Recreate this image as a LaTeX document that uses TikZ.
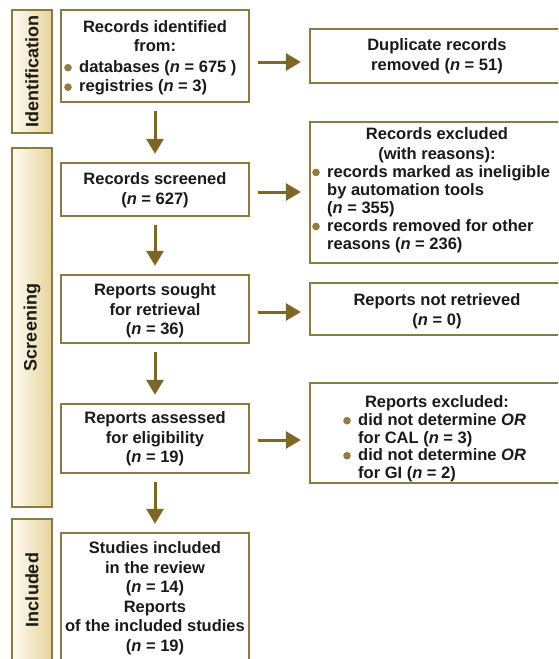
\documentclass[tikz,border=0pt]{standalone}
\usepackage{fontspec}
\setmainfont{Liberation Sans}
\usetikzlibrary{arrows.meta}
\definecolor{bordc}{HTML}{8C7A44}
\definecolor{arrc}{HTML}{7D6726}
\definecolor{bulc}{HTML}{8F7B45}
\definecolor{sideL}{HTML}{FFFDF3}
\definecolor{sideR}{HTML}{E6D39A}
\definecolor{textc}{HTML}{1A1A1A}
\newcommand{\bul}{\makebox[15pt][l]{\tikz[baseline=-4.8pt]\fill[bulc] (0,0) circle (3.8pt);}}
\newcommand{\ind}{\hspace*{15pt}}
\newcommand{\nn}{\textit{n}}
\begin{document}
\begin{tikzpicture}[x=1pt, y=-1pt,
  box/.style={draw=bordc, line width=2.4pt, fill=white, rectangle, inner sep=0pt},
  side/.style={draw=bordc, line width=2.2pt, left color=sideL, right color=sideR, rectangle, inner sep=0pt},
  txt/.style={inner sep=0pt, align=center, text=textc, font=\fontsize{16.5}{19.5}\selectfont\bfseries},
  lst/.style={inner sep=0pt, align=left, text=textc, font=\fontsize{16.5}{18}\selectfont\bfseries},
  stxt/.style={inner sep=0pt, rotate=90, text=textc, font=\fontsize{18}{20}\selectfont\bfseries},
  arr/.style={draw=arrc, line width=3pt, -{Triangle[length=15pt,width=17pt]}, shorten <=8pt, shorten >=8pt}]
\useasboundingbox (0,0) rectangle (558,659);
\fill[white] (0,0) rectangle (558,659);
\clip (0,0) rectangle (558,659);

% side bars
\node[side, minimum width=40pt, minimum height=123pt] (s1) at (32,71.5) {};
\node[side, minimum width=40pt, minimum height=359pt] (s2) at (32,327.5) {};
\node[side, minimum width=40pt, minimum height=146pt] (s3) at (32,592) {};
\node[stxt] (s1t) at (s1.center) {Identification};
\node[stxt] (s2t) at (s2.center) {Screening};
\node[stxt] (s3t) at (32,590) {Included};

% left column boxes
\node[box, minimum width=188pt, minimum height=92pt] (b1) at (155,56) {};
\node[box, minimum width=188pt, minimum height=53pt] (b2) at (155,189.5) {};
\node[box, minimum width=188pt, minimum height=68pt] (b3) at (155,309) {};
\node[box, minimum width=188pt, minimum height=69pt] (b4) at (155,438.5) {};
\node[box, minimum width=188pt, minimum height=134pt] (b5) at (155,600) {};

% right column boxes
\node[box, minimum width=256pt, minimum height=54pt] (r1) at (438,56) {};
\node[box, minimum width=256pt, minimum height=141pt] (r2) at (438,192.5) {};
\node[box, minimum width=256pt, minimum height=52pt] (r3) at (438,309) {};
\node[box, minimum width=256pt, minimum height=100pt] (r4) at (438,433) {};

% texts
\node[txt] (b1h) at (155,36) {Records identified\\from:};
\node[lst, anchor=west, font=\fontsize{16.5}{19.5}\selectfont\bfseries] (b1l) at (64,78) {\bul databases (\nn{} = 675 )\\\bul registries (\nn{} = 3)};
\node[txt] (b2t) at (155,190) {Records screened\\(\nn{} = 627)};
\node[txt] (b3t) at (155,311) {Reports sought\\for retrieval\\(\nn{} = 36)};
\node[txt] (b4t) at (155,439) {Reports assessed\\for eligibility\\(\nn{} = 19)};
\node[txt] (b5t) at (155,598) {Studies included\\in the review\\(\nn{} = 14)\\Reports\\of the included studies\\(\nn{} = 19)};

\node[txt] (r1t) at (437,56) {Duplicate records\\removed (\nn{} = 51)};
\node[txt] (r2h) at (437,145) {Records excluded\\(with reasons):};
\node[lst, anchor=west] (r2l) at (312,209) {\bul records marked as ineligible\\\ind by automation tools\\\ind (\nn{} = 355)\\\bul records removed for other\\\ind reasons (\nn{} = 236)};
\node[txt] (r3t) at (437,311) {Reports not retrieved\\(\nn{} = 0)};
\node[txt] (r4h) at (437,403) {Reports excluded:};
\node[lst, anchor=west, font=\fontsize{16.5}{17.5}\selectfont\bfseries] (r4l) at (343,447.5) {\bul did not determine \textit{OR}\\\ind for CAL (\nn{} = 3)\\\bul did not determine \textit{OR}\\\ind for GI (\nn{} = 2)};

% arrows
\draw[arr] ([yshift=-6pt]b1.east) -- ([yshift=-6pt]b1.east -| r1.west);
\draw[arr] ([yshift=-2.5pt]b2.east) -- ([yshift=-2.5pt]b2.east -| r2.west);
\draw[arr] ([yshift=-3pt]b3.east) -- ([yshift=-3pt]b3.east -| r3.west);
\draw[arr] ([yshift=-1.5pt]b4.east) -- ([yshift=-1.5pt]b4.east -| r4.west);
\draw[arr] (b1.south) -- (b2.north);
\draw[arr] (b2.south) -- (b3.north);
\draw[arr] (b3.south) -- (b4.north);
\draw[arr] (b4.south) -- (b5.north);
\end{tikzpicture}
\end{document}
